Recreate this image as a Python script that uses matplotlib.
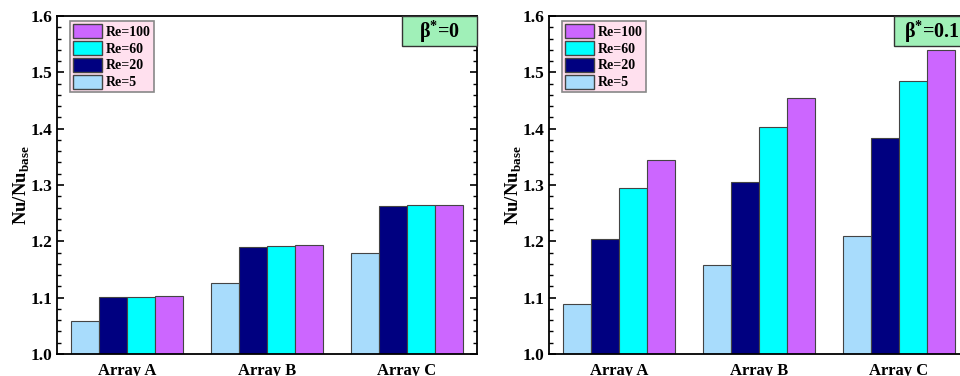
import numpy as np
import matplotlib
matplotlib.use("Agg")
import matplotlib.pyplot as plt
from matplotlib.ticker import MultipleLocator
from matplotlib.patches import Patch, Rectangle

# data
arrays = ["Array A", "Array B", "Array C"]
re_labels = ["Re=5", "Re=20", "Re=60", "Re=100"]
colors = ["#a8dcfc", "#000080", "#00ffff", "#cc66ff"]

# beta* = 0
b0_re5 = [1.059, 1.126, 1.179]
b0_re20 = [1.102, 1.190, 1.262]
b0_re60 = [1.102, 1.191, 1.264]
b0_re100 = [1.103, 1.193, 1.265]

# beta* = 0.1
b1_re5 = [1.088, 1.158, 1.209]
b1_re20 = [1.205, 1.306, 1.383]
b1_re60 = [1.294, 1.403, 1.485]
b1_re100 = [1.344, 1.455, 1.539]

panels = [
    ("β$^{*}$=0", [b0_re5, b0_re20, b0_re60, b0_re100]),
    ("β$^{*}$=0.1", [b1_re5, b1_re20, b1_re60, b1_re100]),
]

plt.rcParams['font.family'] = 'Liberation Serif'
plt.rcParams['font.weight'] = 'bold'
plt.rcParams['mathtext.fontset'] = 'custom'
plt.rcParams['mathtext.rm'] = 'Liberation Serif:bold'
plt.rcParams['mathtext.bf'] = 'Liberation Serif:bold'

fig = plt.figure(figsize=(9.6, 3.76), dpi=100)
W, H = 960, 376
lefts = [57, 549]

x = np.arange(1, len(arrays) + 1)
width = 0.2

for (tag, series), lx in zip(panels, lefts):
    ax = fig.add_axes([lx / W, (H - 354) / H, 420 / W, 338 / H])
    for i, vals in enumerate(series):
        ax.bar(x + (i - 1.5) * width, np.array(vals) - 1.0, width, bottom=1.0,
               color=colors[i], edgecolor="#444444", linewidth=0.8)
    ax.set_xlim(0.5, 3.5)
    ax.set_ylim(1.0, 1.6)
    ax.set_xticks(x)
    ax.set_xticklabels(arrays, fontsize=12, fontweight='bold')
    ax.tick_params(axis='x', length=0, pad=6.5)
    ax.yaxis.set_major_locator(MultipleLocator(0.1))
    ax.yaxis.set_minor_locator(MultipleLocator(0.02))
    ax.tick_params(axis='y', which='major', direction='in', length=5, width=1.2,
                   left=True, right=True, labelsize=12.5)
    ax.tick_params(axis='y', which='minor', direction='in', length=3, width=1,
                   left=True, right=True)
    for s in ax.spines.values():
        s.set_linewidth(1.3)
    ax.set_ylabel("Nu/Nu$_{\\mathrm{base}}$", fontsize=13.5, fontweight='bold', labelpad=-1)

    handles = [Patch(facecolor=colors[i], edgecolor="#444444", label=re_labels[i])
               for i in range(3, -1, -1)]
    leg = ax.legend(handles=handles, loc='upper left', bbox_to_anchor=(0.031, 0.985),
                    fontsize=10, frameon=True, fancybox=False, handlelength=2.1,
                    handleheight=1.2, handletextpad=0.3, labelspacing=0.15,
                    borderpad=0.2, borderaxespad=0.0)
    leg.get_frame().set_facecolor("#ffe0ee")
    leg.get_frame().set_edgecolor("#888888")
    leg.get_frame().set_linewidth(1.2)
    leg.get_frame().set_alpha(1)

    # beta* tag box sitting in the top-right corner
    ax.add_patch(Rectangle((0.822, 0.911), 0.178, 0.089, transform=ax.transAxes,
                           facecolor="#a0f0b8", edgecolor="#333333", linewidth=1,
                           zorder=5, clip_on=False))
    ax.text(0.912, 0.955, tag, transform=ax.transAxes, ha='center', va='center',
            fontsize=14.5, fontweight='bold', zorder=6)

fig.savefig("out.png", dpi=100)
